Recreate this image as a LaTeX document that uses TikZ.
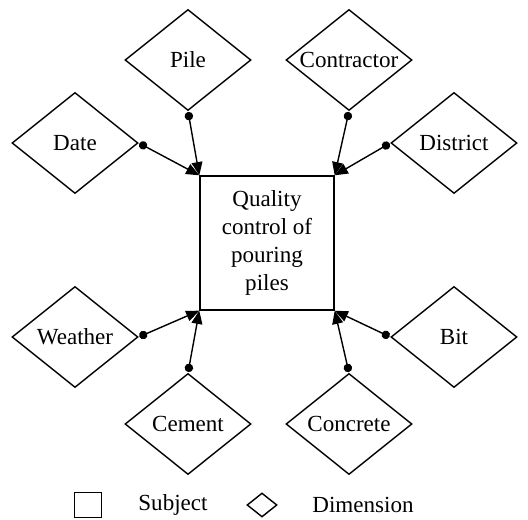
\documentclass[tikz,border=0pt]{standalone}
\usepackage{fontspec}
\setmainfont{Liberation Serif}
\usetikzlibrary{shapes.geometric,arrows.meta}
\newcommand{\dimtext}[1]{\makebox[0pt]{#1}}
\begin{document}
\begin{tikzpicture}[
        dim/.style = {draw, diamond, inner sep = 0pt, minimum width = 3.15cm, minimum height = 2.525cm},
        subj/.style = {draw, rectangle, minimum size = 3.35cm, align = center},
        link/.style = {{Circle[length = 0.21cm]}-{Triangle[length = 0.33cm, width = 0.27cm]}, shorten <= 0.02cm},
        line width = 1pt, font = \fontsize{16.4}{19.9}\selectfont]
            \useasboundingbox (-6.675,-6.925) rectangle (6.525,6.075);
            \node[subj] (qc) at (0,0) {Quality\\control of\\pouring\\piles};
            \node[dim] (pile) at (-1.975,4.575) {\dimtext{Pile}};
            \node[dim] (contractor) at (2.05,4.575) {\dimtext{Contractor}};
            \node[dim] (date) at (-4.8,2.5) {\dimtext{Date}};
            \node[dim] (district) at (4.675,2.5) {\dimtext{District}};
            \node[dim] (weather) at (-4.8,-2.35) {\dimtext{Weather}};
            \node[dim] (bit) at (4.675,-2.35) {\dimtext{Bit}};
            \node[dim] (cement) at (-1.975,-4.525) {\dimtext{Cement}};
            \node[dim] (concrete) at (2.05,-4.525) {\dimtext{Concrete}};
            \draw[link] (pile.south) -- (qc.north west);
            \draw[link] (date.east) -- (qc.north west);
            \draw[link] (contractor.south) -- (qc.north east);
            \draw[link] (district.west) -- (qc.north east);
            \draw[link] (weather.east) -- (qc.south west);
            \draw[link] (cement.north) -- (qc.south west);
            \draw[link] (concrete.north) -- (qc.south east);
            \draw[link] (bit.west) -- (qc.south east);
            % legend
            \node[draw, minimum width = 0.675cm, minimum height = 0.625cm] (legsubj) at (-4.475,-6.55) {};
            \node (legsubjtxt) at (-2.35,-6.55) {Subject};
            \node[dim, minimum width = 0.75cm, minimum height = 0.6cm] (legdim) at (-0.125,-6.55) {};
            \node (legdimtxt) at (2.4,-6.55) {Dimension};
        \end{tikzpicture}
\end{document}
